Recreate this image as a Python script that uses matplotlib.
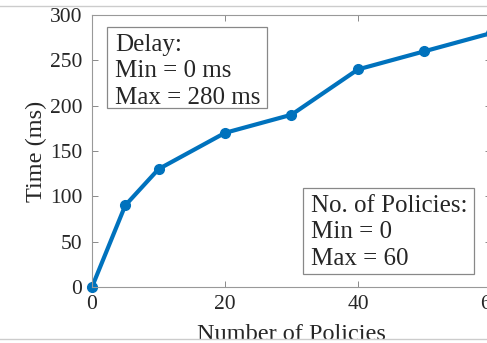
import matplotlib.pyplot as plt
from matplotlib.lines import Line2D
from matplotlib.patches import Rectangle

plt.rcParams['font.family'] = ['Liberation Serif', 'DejaVu Serif']

policies = [0, 5, 10, 20, 30, 40, 50, 60]
delay_ms = [0, 90, 130, 170, 190, 240, 260, 280]
x_ticks = [0, 20, 40, 60]
y_ticks = [0, 50, 100, 150, 200, 250, 300]

W, H = 487, 343
fig = plt.figure(figsize=(W / 100, H / 100), dpi=100)
# axes box runs past the right edge of the picture, as in the reference
ax = fig.add_axes([92 / W, 1 - 287 / H, (491 - 92) / W, (287 - 15) / H])

ax.plot(policies, delay_ms, color='#0072BD', lw=3, marker='o', ms=7, clip_on=False)
ax.set_xlim(0, 60)
ax.set_ylim(0, 300)
ax.set_xticks(x_ticks)
ax.set_yticks(y_ticks)
ax.tick_params(direction='in', length=4, width=0.6, colors='#777777',
               labelcolor='#262626', labelsize=15.5, top=True, right=True)
ax.tick_params(axis='x', pad=6)
ax.tick_params(axis='y', pad=7)
for s in ax.spines.values():
    s.set_color('#999999')
    s.set_linewidth(0.8)
ax.set_xlabel('Number of Policies', fontsize=17.5, color='#262626', labelpad=7)
ax.set_ylabel('Time (ms)', fontsize=17.5, color='#262626', labelpad=2)


def note(x0, y0, x1, y1, txt):
    # frame and text placed in picture pixels (top-left origin)
    fig.add_artist(Rectangle((x0 / W, 1 - y1 / H), (x1 - x0) / W, (y1 - y0) / H,
                             transform=fig.transFigure, fc='white', ec='#888888', lw=0.9))
    fig.text((x0 + 8) / W, 1 - (y0 + 7) / H, txt, fontsize=18, va='top', ha='left',
             color='#262626', linespacing=1.26)


note(107, 27, 267, 108, 'Delay:\nMin = 0 ms\nMax = 280 ms')
note(303, 188, 474, 274, 'No. of Policies:\nMin = 0\nMax = 60')

# cropped-page look: thin grey rules at top and bottom
fig.add_artist(Rectangle((0, 0), 1, 1 - 339 / H, transform=fig.transFigure,
                         fc='white', ec='none', zorder=5))
fig.add_artist(Line2D([0, 1], [1 - 6 / H, 1 - 6 / H], color='#cccccc', lw=1, zorder=6))
fig.add_artist(Line2D([0, 1], [1 - 339 / H, 1 - 339 / H], color='#cccccc', lw=1, zorder=6))

fig.savefig('out.png', dpi=100)
